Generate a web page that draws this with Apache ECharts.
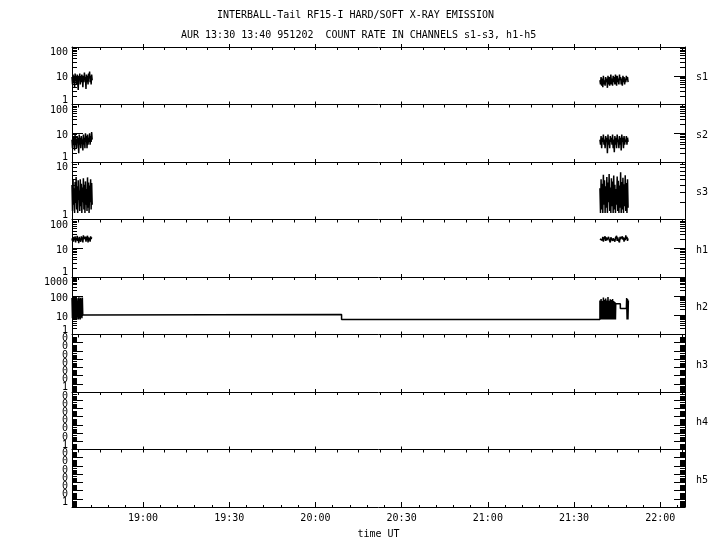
<!DOCTYPE html>
<html><head><meta charset="utf-8">
<script src="https://cdn.jsdelivr.net/npm/echarts@6/dist/echarts.min.js"></script>
<style>html,body{margin:0;padding:0;background:#fff}#c{width:720px;height:550px}</style>
</head><body><div id="c"></div><script>
// ---------------- data ----------------
const titleLines = ['INTERBALL-Tail RF15-I HARD/SOFT X-RAY EMISSION',
                    'AUR 13:30 13:40 951202  COUNT RATE IN CHANNELS s1-s3, h1-h5'];
const channels = ['s1','s2','s3','h1','h2','h3','h4','h5'];
const yMin = [1,1,1,1,1,1e-7,1e-7,1e-7];
const yMax = [100,100,10,100,1000,1,1,1];
const yLabelSets = [
  ['1','10','100'], ['1','10','100'], ['1','10'], ['1','10','100'], ['1','10','100','1000'],
  ['0','0','0','0','0','0','1',''], ['0','0','0','0','0','0','1',''], ['0','0','0','0','0','0','1','']
];
const xMin = 35.3, xMax = 248.6;            // minutes after 18:00 UT
const timeTicks = [60,90,120,150,180,210,240];
const timeLabels = ['19:00','19:30','20:00','20:30','21:00','21:30','22:00'];
const xName = 'time UT';

// burst sampling (minutes after 18:00)
const leftT0 = 35.3, leftDt = 0.18;
const rightT0 = 219.0, rightDt = 0.2;
const h2LeftDt = 0.15;

const s1Left  = [9,5,11,6,10,4,12,7,9,5,11,6,3.2,10,7,12,5,9,6,11,8,4,10,6,13,7,9,3.5,11,6,10,5,12,8,14,6,10,5,11,7];
const s1Right = [7,5,9,4.5,8,4,10,5,7,4.5,9,6,8,3.8,10,5,9,4.5,7,11,5,8,4.5,10,6,9,5,11,7,4.5,10,6,8,5,11,7,9,5,8,4.5,10,6,9,5,8,6,10,7,9,6];
const s2Left  = [6,3,8,4,7,2.5,9,4,6,3,8,5,7,2,9,4,7,3,8,5,6,2.5,9,4,7,3,10,5,8,3,9,4,7,5,10,4,8,5,11,6];
const s2Right = [6,4,8,3,7,5,9,4,6,3,8,5,7,2,9,4,6,3,8,5,7,4,9,3,6,2.2,8,4,7,3,9,5,6,3,8,4,7,2.5,9,5,7,3,8,4,6,5,8,4,7,5];
const s3Left  = [4,1.4,5,1.8,3.5,1.3,4.5,2,5.5,1.5,3.8,1.3,4.8,2.2,3.2,1.4,5,1.7,4.2,1.3,3.6,2,5.2,1.5,4,1.3,4.6,1.8,3.4,1.4,5.4,1.6,4.4,1.3,3.9,2,5,1.5,4.3,1.8];
const s3Right = [3.5,1.3,5,1.5,4.2,1.3,6,1.8,4.8,1.3,3.8,1.6,5.5,1.3,4.4,2,6.2,1.4,3.6,1.3,5.2,1.7,4.6,1.3,5.8,1.5,4,1.3,3.4,1.8,5.6,1.4,4.7,1.3,3.9,1.6,6.6,1.3,4.5,1.5,5.3,1.3,4.1,1.7,5.9,1.4,4.3,1.3,5,1.6];
const h1Left  = [22,18,25,17,24,20,26,16,23,19,27,18,22,15,25,20,23,17,26,19,24,16,28,21,23,18,25,17,22,20,27,16,24,19,23,17,26,21,24,19];
const h1Right = [21,24,18,23,19,25,17,22,20,26,18,24,19,22,17,25,20,23,16,24,21,26,18,22,19,25,17,23,20,27,18,24,19,22,16,25,21,23,18,26,20,24,17,23,19,28,21,25,18,22];
const h2Left  = [80,7,65,6,90,8,70,6,75,7,85,6,60,8,78,6,88,7,72,6,82,8,68,7,85,10.5];
const h2LineT = [39.1, 129.1, 129.1, 219.0];
const h2LineV = [11, 11, 6, 6];
const h2Right = [60,6,70,6,55,6,85,6,65,6,75,6,60,6,90,6,58,6,68,6,62,6,72,6,55,6,50,6];
const h2TailT = [224.5, 226.1, 226.1, 228.2, 228.3, 228.45, 228.6, 228.75, 228.9];
const h2TailV = [40, 40, 23, 23, 80, 6, 70, 6, 60];

// ---------------- helpers ----------------
const FONT = 'DejaVu Sans Mono';
const BLACK = '#000';
const sampled = (t0, dt, vals) => vals.map((v, i) => [t0 + i * dt, v]);
const zipTV = (ts, vs) => ts.map((t, i) => [t, vs[i]]);
function decadeList(lo, hi) {
  const out = [];
  for (let e = Math.round(Math.log10(lo)); e <= Math.round(Math.log10(hi)); e++) out.push(Number('1e' + e));
  return out;
}
function minorList(lo, hi) {
  const out = [];
  for (let e = Math.round(Math.log10(lo)); e < Math.round(Math.log10(hi)); e++)
    for (let k = 2; k <= 9; k++) out.push(Number(k + 'e' + e));
  return out;
}
const panelTicks = [];
for (let t = 37.5; t < xMax; t += 7.5) panelTicks.push(t);
const bottomMinor = [];
for (let t = 36; t < xMax; t += 6) bottomMinor.push(t);

const panelData = {
  s1: [sampled(leftT0, leftDt, s1Left), sampled(rightT0, rightDt, s1Right)],
  s2: [sampled(leftT0, leftDt, s2Left), sampled(rightT0, rightDt, s2Right)],
  s3: [sampled(leftT0, leftDt, s3Left), sampled(rightT0, rightDt, s3Right)],
  h1: [sampled(leftT0, leftDt, h1Left), sampled(rightT0, rightDt, h1Right)],
  h2: [[].concat(sampled(leftT0, h2LeftDt, h2Left), zipTV(h2LineT, h2LineV),
                 sampled(rightT0, rightDt, h2Right), zipTV(h2TailT, h2TailV))]
};

// ---------------- layout ----------------
const L = 72, W = 613, TOP = 47, PH = 57.5;
const txt = {fontFamily: FONT, fontSize: 10, color: BLACK};
const grids = [], xAxes = [], yAxes = [], series = [];

channels.forEach((ch, i) => {
  const top = TOP + i * PH;
  const last = i === channels.length - 1;
  const inv = yMin[i] < 1;
  const decades = decadeList(yMin[i], yMax[i]);
  const minors = minorList(yMin[i], yMax[i]);
  const labels = yLabelSets[i];
  const g = grids.length;
  grids.push({left: L, top: top, width: W, height: PH});
  grids.push({left: L, top: top, width: W, height: PH});

  const lineSt = {color: BLACK, width: 1};
  const mainX = xAxes.length;
  xAxes.push({type: 'value', gridIndex: g, min: xMin, max: xMax, position: 'top',
    axisLine: {show: true, lineStyle: lineSt},
    axisTick: {show: true, inside: true, length: 3, customValues: panelTicks, lineStyle: lineSt},
    axisLabel: {show: false}, splitLine: {show: false}});
  if (last) {
    xAxes.push({type: 'value', gridIndex: g, min: xMin, max: xMax, position: 'bottom',
      axisLine: {show: true, lineStyle: lineSt},
      axisTick: {show: true, inside: true, length: 5, customValues: timeTicks, lineStyle: lineSt},
      axisLabel: {show: true, customValues: timeTicks, margin: 6, ...txt,
        formatter: v => timeLabels[timeTicks.indexOf(Math.round(v))] || ''},
      splitLine: {show: false},
      name: xName, nameLocation: 'middle', nameGap: 22, nameTextStyle: txt});
  }
  xAxes.push({type: 'value', gridIndex: g + 1, min: xMin, max: xMax, position: 'top',
    axisLine: {show: false},
    axisTick: {show: true, inside: false, length: 3, customValues: timeTicks, lineStyle: lineSt},
    axisLabel: {show: false}, splitLine: {show: false}});
  if (last) {
    xAxes.push({type: 'value', gridIndex: g + 1, min: xMin, max: xMax, position: 'bottom',
      axisLine: {show: false},
      axisTick: {show: true, inside: true, length: 2, customValues: bottomMinor, lineStyle: lineSt},
      axisLabel: {show: false}, splitLine: {show: false}});
  }

  const nearestIdx = v => {
    let best = 0, bd = Infinity;
    decades.forEach((d, k) => { const dd = Math.abs(Math.log10(d) - Math.log10(v)); if (dd < bd) { bd = dd; best = k; } });
    return best;
  };
  const labelled = decades.filter((d, k) => labels[k] !== '');
  const evenVals = labelled.filter((d, k) => k % 2 === 0);
  const oddVals = labelled.filter((d, k) => k % 2 === 1);

  let labelA, labelB;
  if (!inv) {
    const rich = {
      t: {...txt, padding: [11, 0, 0, 0]},
      b: {...txt, padding: [0, 0, 9, 0]},
      m: {...txt, padding: [4, 0, 0, 0]}
    };
    const fmt = v => {
      const k = nearestIdx(v);
      let tag = 'm';
      if (k === 0) tag = 'b';
      if (k === decades.length - 1) tag = 't';
      return '{' + tag + '|' + labels[k] + '}';
    };
    labelA = {show: true, customValues: evenVals, margin: 4, ...txt, rich: rich, formatter: fmt};
    labelB = {show: true, customValues: oddVals, margin: 4, ...txt, rich: rich, formatter: fmt};
  } else {
    const fmt = v => labels[nearestIdx(v)];
    const base = {show: true, margin: 4, ...txt, verticalAlign: 'top', lineHeight: 8, formatter: fmt};
    labelA = {...base, customValues: evenVals};
    labelB = {...base, customValues: oddVals};
  }

  const baseY = {type: 'log', logBase: 10, min: yMin[i], max: yMax[i], inverse: inv, splitLine: {show: false}};
  const mainY = yAxes.length;
  yAxes.push({...baseY, gridIndex: g, position: 'left',
    axisLine: {show: true, lineStyle: lineSt},
    axisTick: {show: true, inside: true, length: 11, customValues: decades, lineStyle: lineSt},
    axisLabel: labelA});
  yAxes.push({...baseY, gridIndex: g, position: 'right',
    axisLine: {show: true, lineStyle: lineSt},
    axisTick: {show: true, inside: true, length: 11, customValues: decades, lineStyle: lineSt},
    axisLabel: {show: false},
    name: ch, nameLocation: 'middle', nameRotate: 0, nameGap: 11,
    nameTextStyle: {...txt, align: 'left', verticalAlign: 'top', lineHeight: 4}});
  yAxes.push({...baseY, gridIndex: g + 1, position: 'left',
    axisLine: {show: false},
    axisTick: {show: true, inside: true, length: 5, customValues: minors, lineStyle: lineSt},
    axisLabel: oddVals.length ? labelB : {show: false}});
  yAxes.push({...baseY, gridIndex: g + 1, position: 'right',
    axisLine: {show: false},
    axisTick: {show: true, inside: true, length: 5, customValues: minors, lineStyle: lineSt},
    axisLabel: {show: false}});

  (panelData[ch] || []).forEach(d => {
    series.push({type: 'line', xAxisIndex: mainX, yAxisIndex: mainY, data: d,
      showSymbol: false, symbol: 'none', silent: true, animation: false,
      lineStyle: {color: BLACK, width: 1.5}});
  });
});

const chart = echarts.init(document.getElementById('c'), null, {renderer: 'canvas'});
chart.setOption({
  backgroundColor: '#fff',
  animation: false,
  title: [
    {text: titleLines[0], left: 212, top: 5, textStyle: {...txt, fontWeight: 'normal'}},
    {text: titleLines[1], left: 176, top: 25, textStyle: {...txt, fontWeight: 'normal'}}
  ],
  grid: grids, xAxis: xAxes, yAxis: yAxes, series: series
});
</script></body></html>
